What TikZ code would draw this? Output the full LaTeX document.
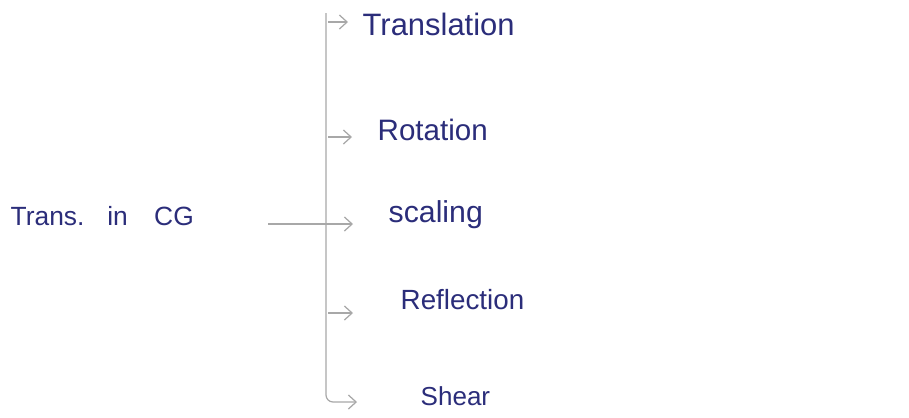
\documentclass[tikz,border=0pt]{standalone}
\usepackage{fontspec}
\setmainfont{Liberation Sans}
\usetikzlibrary{arrows.meta}
\definecolor{ink}{HTML}{2B2D7A}
\definecolor{pencil}{HTML}{A8A8A8}
\tikzset{
  lbl/.style={text=ink, inner sep=0pt, anchor=base west},
  guide/.style={draw=pencil, line width=0.35pt},
  branch/.style={guide, -{Straight Barb[length=2.2pt,width=4pt]}},
}
\begin{document}
\begin{tikzpicture}[x=0.01cm, y=-0.01cm]
\useasboundingbox[fill=white] (0,0) rectangle (909,417);
% labels
\node[lbl, font=\fontsize{7.5}{9}\selectfont] (root) at (10,225) {Trans.\hspace{6.5pt}in\hspace{7.5pt}CG};
\node[lbl, font=\fontsize{8.8}{10}\selectfont] (tr) at (362,35) {Translation};
\node[lbl, font=\fontsize{8.4}{10}\selectfont] (ro) at (377,140) {Rotation};
\node[lbl, font=\fontsize{8.6}{10}\selectfont] (sc) at (388,222) {scaling};
\node[lbl, font=\fontsize{7.9}{10}\selectfont] (re) at (400,309) {Reflection};
\node[lbl, font=\fontsize{7.4}{10}\selectfont] (sh) at (420,405) {Shear};
% trunk and branches
\coordinate (top) at (326,13);
\coordinate (in) at (268,224);
\coordinate (b1) at (328,22);  \coordinate (e1) at (348,22);
\coordinate (b2) at (328,137); \coordinate (e2) at (352,137);
\coordinate (e3) at (353,224);
\coordinate (b4) at (328,313); \coordinate (e4) at (353,313);
\coordinate (e5) at (357,402);
\draw[branch, rounded corners=2pt] (top) |- (e5);
\draw[branch] (b1) -- (e1);
\draw[branch] (b2) -- (e2);
\draw[branch] (in) -- (e3);
\draw[branch] (b4) -- (e4);
\end{tikzpicture}
\end{document}
